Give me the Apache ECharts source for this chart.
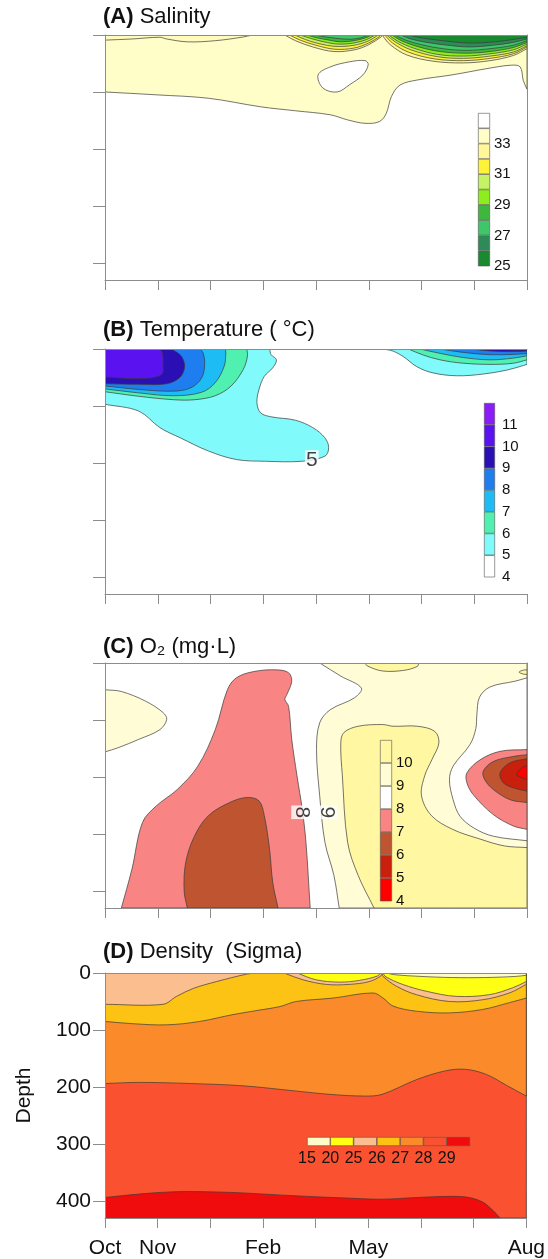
<!DOCTYPE html>
<html>
<head>
<meta charset="utf-8">
<script src="https://cdn.jsdelivr.net/npm/echarts@6/dist/echarts.min.js"></script>
<style>
  html, body { margin: 0; padding: 0; background: #fff; }
  #chart { width: 548px; height: 1259px; }
</style>
</head>
<body>
<div id="chart"></div>
<script>
// x axis: 9 ticks (0..8), only some are named
const monthLabels = { 0: 'Oct', 1: 'Nov', 3: 'Feb', 5: 'May', 8: 'Aug' };
const depthTicks = [0, 100, 200, 300, 400];

// corners of a panel, [x, depth]
const TL = [0, 0], TR = [8, 0], BR = [8, 430], BL = [0, 430];

// ---------- (A) Salinity ----------
const salEdges = [25, 26, 27, 28, 29, 30, 31, 32, 33, 34, 35];
const salColors = ['#1a8a30', '#2e8b57', '#3fc56a', '#3db83d', '#8cee1c', '#c6f266', '#fff23a', '#fff79a', '#fffdc8', '#ffffff'];
const sal33 = [[0, 100], [0.97, 105], [1.96, 111], [2.95, 126], [3.61, 133], [4.27, 140], [4.6, 149], [4.93, 155], [5.2, 152], [5.33, 138], [5.43, 108], [5.59, 88], [5.92, 79], [6.58, 70], [7.24, 59], [7.7, 53], [7.87, 56], [7.93, 80], [8, 95]];
const salIsland = [[4.04, 70], [4.27, 56], [4.64, 47], [4.93, 45], [4.99, 52], [4.89, 70], [4.64, 87], [4.4, 100], [4.13, 93]];
const salTopLeft = [[0, 9], [0.51, 7], [1.04, 4], [1.17, 7], [1.56, 12], [2.09, 10], [2.62, 3.5], [2.79, 0]];
const salLensA = [
  [[3.41, 0], [3.61, 10], [3.94, 21], [4.34, 29], [4.73, 26], [5.0, 17], [5.24, 3], [5.26, 0]],
  [[3.5, 0], [3.7, 9], [4.0, 18], [4.36, 25], [4.72, 23], [5.0, 14], [5.2, 3], [5.23, 0]],
  [[3.6, 0], [3.8, 8], [4.05, 15], [4.38, 20], [4.72, 18], [4.98, 11], [5.15, 2], [5.18, 0]],
  [[3.7, 0], [3.9, 6], [4.15, 12], [4.42, 16], [4.72, 14], [4.96, 8], [5.12, 0]],
  [[3.82, 0], [4.02, 5], [4.25, 9], [4.46, 12], [4.72, 10], [4.94, 5], [5.06, 0]],
  [[3.98, 0], [4.15, 3], [4.4, 6], [4.65, 7.5], [4.85, 5], [5.0, 0]]
];
const salLensB = [
  [[5.26, 0], [5.3, 6], [5.42, 18], [5.72, 35], [6.22, 46], [6.79, 49], [7.3, 45], [7.74, 36], [8, 24]],
  [[5.3, 0], [5.45, 14], [5.75, 30], [6.25, 42], [6.8, 45], [7.3, 41], [7.74, 33], [8, 21]],
  [[5.34, 0], [5.5, 12], [5.8, 26], [6.3, 38], [6.8, 41], [7.3, 37], [7.74, 30], [8, 19]],
  [[5.38, 0], [5.55, 11], [5.85, 23], [6.3, 34], [6.8, 37], [7.3, 33], [7.74, 26], [8, 16]],
  [[5.44, 0], [5.62, 10], [5.95, 21], [6.35, 29], [6.85, 32], [7.3, 29], [7.74, 22], [8, 13]],
  [[5.5, 0], [5.7, 9], [6.0, 17], [6.4, 24], [6.85, 27], [7.3, 24], [7.74, 18], [8, 10]],
  [[5.6, 0], [5.8, 7], [6.1, 13], [6.5, 18], [6.9, 21], [7.35, 18], [7.74, 13], [8, 7]],
  [[5.75, 0], [6.0, 5], [6.4, 10], [6.9, 14], [7.4, 12], [7.8, 7], [8, 4]]
];

// ---------- (B) Temperature ----------
const tempEdges = [4, 5, 6, 7, 8, 9, 10, 11, 12];
const tempColors = ['#ffffff', '#80fafa', '#4ff0b0', '#1ebcf5', '#1e7ef0', '#2a0fb5', '#5a12f0', '#8b1cf7'];
const temp5 = [[0, 97], [0.64, 109], [1.04, 138], [1.43, 156], [1.96, 179], [2.49, 194], [3.02, 197], [3.74, 197], [4.17, 188], [4.24, 173], [4.17, 156], [3.94, 138], [3.61, 125], [3.15, 119], [2.95, 112], [2.88, 94], [2.92, 71], [3.02, 48], [3.18, 33], [3.25, 19], [3.15, 10], [3.12, 0]];
const temp6 = [[0, 75], [0.64, 83], [1.3, 89], [1.7, 89], [2.09, 82], [2.39, 65], [2.62, 36], [2.7, 13], [2.69, 0]];
const temp7 = [[0, 70], [0.64, 77], [1.3, 82], [1.83, 76], [2.09, 59], [2.26, 30], [2.29, 7], [2.28, 0]];
const temp8 = [[0, 65], [0.64, 71], [1.3, 74], [1.63, 68], [1.83, 51], [1.89, 27], [1.86, 7], [1.8, 0]];
const temp9 = [[0, 61], [0.64, 62], [1.17, 61], [1.43, 49], [1.51, 30], [1.45, 13], [1.33, 4], [1.23, 0]];
const temp10 = [[0, 49], [0.64, 52], [1.07, 45], [1.1, 24], [1.09, 7], [1.04, 0]];
const temp5r = [[5.02, 0], [5.4, 2], [5.65, 13], [5.91, 31], [6.22, 42], [6.67, 47], [7.17, 44], [7.62, 37], [7.93, 29], [8, 27]];
const temp6r = [[5.75, 0], [6.03, 10.5], [6.35, 19], [6.79, 25], [7.3, 27], [7.74, 25], [8, 19]];
const temp7r = [[5.97, 0], [6.35, 7.6], [6.79, 15], [7.3, 19], [7.74, 16], [8, 12]];
const temp8r = [[6.35, 0], [6.79, 6], [7.3, 10], [7.74, 9.5], [8, 8]];
const temp9r = [[6.92, 0], [7.3, 3.5], [7.74, 4.6], [8, 3.5]];
const temp10r = [[7.4, 0], [7.8, 2], [8, 1.5]];
const tempLabel = [[3.92, 196, '5']];

// ---------- (C) O2 ----------
const oxyEdges = [4, 5, 6, 7, 8, 9, 10, 11];
const oxyColors = ['#ff0000', '#c8200c', '#bf5530', '#f88484', '#ffffff', '#fffcd6', '#fff7a2'];
const oxy9 = [[4.07, 0], [4.47, 23], [4.86, 44], [4.73, 61], [4.27, 82], [4.07, 105], [4.01, 152], [4.07, 233], [4.17, 315], [4.34, 373], [4.44, 430]];
const oxy10 = [[5.1, 430], [4.8, 373], [4.6, 315], [4.5, 198], [4.47, 140], [4.53, 122], [4.8, 111], [5.26, 108], [5.46, 111], [5.92, 111], [6.25, 120], [6.33, 140], [6.2, 169], [6.06, 198], [6.0, 233], [6.19, 268], [6.59, 292], [7.11, 309], [7.57, 321], [8, 324]];
const oxyTopBlob = [[4.93, 0], [4.97, 5], [5.26, 14], [5.66, 13], [5.92, 6], [5.95, 0]];
const oxyCornerBlob = [[8, 12], [7.93, 12.5], [7.85, 16], [7.93, 19.5], [8, 20]];
const oxyHole = [[8, 26], [7.77, 32], [7.3, 42], [7.1, 60], [7.05, 90], [7.03, 115], [6.92, 143], [6.6, 181], [6.53, 205], [6.6, 240], [6.73, 269], [7.0, 290], [7.36, 304], [8, 312]];
const oxyPinkR = [[8, 152], [7.49, 155], [7.11, 170], [6.86, 193], [6.86, 210], [6.98, 231], [7.36, 266], [7.74, 286], [8, 292]];
const oxyBrownR = [[8, 161], [7.74, 164], [7.36, 173], [7.17, 190], [7.2, 205], [7.36, 222], [7.68, 240], [8, 245]];
const oxyDarkR = [[8, 168], [7.68, 175], [7.49, 193], [7.55, 210], [7.74, 219], [8, 225]];
const oxyRedR = [[8, 180], [7.9, 184], [7.8, 196], [7.87, 200], [8, 205]];
const oxyCreamL = [[0, 47], [0.31, 50], [0.77, 67], [1.1, 87], [1.17, 99], [1.04, 117], [0.64, 134], [0.24, 149], [0, 156]];
const oxyPinkL = [[0.31, 430], [0.51, 362], [0.71, 280], [0.97, 251], [1.37, 222], [1.76, 181], [2.09, 117], [2.32, 47], [2.49, 26], [2.82, 15], [3.25, 12], [3.48, 17], [3.54, 32], [3.45, 55], [3.41, 64], [3.48, 76], [3.54, 134], [3.64, 198], [3.74, 257], [3.81, 315], [3.89, 430]];
const oxyBrownL = [[1.56, 430], [1.5, 400], [1.53, 350], [1.7, 303], [1.96, 268], [2.36, 245], [2.69, 236], [2.92, 242], [3.02, 268], [3.12, 327], [3.18, 385], [3.28, 430]];
const oxyLabels = [[3.73, 262, '8'], [4.21, 262, '9']];

// ---------- (D) Density ----------
const densLabels = ['15', '20', '25', '26', '27', '28', '29'];
const densColors = ['#fffbc8', '#ffff14', '#fbbe8e', '#fcc214', '#fa8a2a', '#fa5230', '#f00c0c'];
const dens29 = [[0, 394], [0.64, 388], [1.3, 384], [1.96, 384], [2.62, 386], [3.61, 391], [4.6, 395], [5.26, 397], [5.92, 394], [6.58, 392], [6.91, 394], [7.17, 402], [7.37, 417], [7.5, 430]];
const dens28 = [[0, 194], [0.64, 192], [1.63, 194], [2.62, 198], [3.61, 207], [4.27, 213], [4.93, 216], [5.26, 213], [5.92, 187], [6.45, 172], [6.84, 169], [7.24, 178], [7.64, 198], [8, 216]];
const dens27 = [[0, 85], [0.53, 89], [1.17, 91], [1.8, 85], [2.43, 73], [2.94, 65], [3.32, 59], [3.63, 50], [4.33, 44], [5.09, 35], [5.28, 44], [5.47, 58], [5.91, 67], [6.54, 70], [7.17, 64], [7.68, 52], [8, 44]];
const dens26 = [[0, 55], [1.1, 55], [1.36, 41], [1.68, 27], [2.12, 15], [2.69, 2], [2.87, 0]];
const dens26a = [[3.4, 0], [3.76, 12], [4.2, 20], [4.64, 20], [5.02, 15], [5.24, 5], [5.26, 0]];
const dens25a = [[3.65, 0], [4.01, 12], [4.45, 16], [4.83, 13], [5.18, 5], [5.22, 0]];
const dens26b = [[5.26, 0], [5.28, 6], [5.53, 23], [5.91, 38], [6.54, 50], [7.17, 47], [7.68, 35], [8, 20]];
const dens25b = [[5.28, 0], [5.32, 6], [5.65, 20], [6.1, 32], [6.67, 41], [7.3, 38], [7.74, 26], [8, 15]];
const dens20b = [[5.35, 0], [5.5, 3], [6.0, 6], [6.6, 8], [7.2, 8], [7.8, 6], [8, 4]];

// ---------- layout ----------
const FONT = 'Arial, "Liberation Sans", Helvetica, sans-serif';
const AXIS = '#8c8c8c';
const panelTops = [35, 349, 663, 973];
const titles = ['{b|(A)} Salinity', '{b|(B)} Temperature ( °C)', '{b|(C)} O₂ (mg·L)', '{b|(D)} Density  (Sigma)'];
const titleTops = [5, 318, 635, 940];

// regions drawn back to front in each panel
const panelRegions = [
  [
    { line: sal33, close: [TR, TL], color: salColors[8] },
    { line: salIsland, loop: true, color: salColors[9] },
    { line: salTopLeft, close: [TL], color: '#fffbbc' }
  ].concat(
    salLensA.map(function (l, i) { return { line: l, close: [], color: salColors[7 - i] }; }),
    salLensB.map(function (l, i) { return { line: l, close: [TR], color: salColors[7 - i] }; })
  ),
  [
    { line: temp5, close: [TL], color: tempColors[1] },
    { line: temp6, close: [TL], color: tempColors[2] },
    { line: temp7, close: [TL], color: tempColors[3] },
    { line: temp8, close: [TL], color: tempColors[4] },
    { line: temp9, close: [TL], color: tempColors[5] },
    { line: temp10, close: [TL], color: tempColors[6] },
    { line: temp5r, close: [TR], color: tempColors[1] },
    { line: temp6r, close: [TR], color: tempColors[2] },
    { line: temp7r, close: [TR], color: tempColors[3] },
    { line: temp8r, close: [TR], color: tempColors[4] },
    { line: temp9r, close: [TR], color: tempColors[5] },
    { line: temp10r, close: [TR], color: tempColors[6] }
  ],
  [
    { line: oxy9, close: [BR, TR], color: oxyColors[5] },
    { line: oxy10, close: [BR], color: oxyColors[6] },
    { line: oxyTopBlob, close: [], color: oxyColors[6] },
    { line: oxyCornerBlob, close: [], color: oxyColors[6] },
    { line: oxyHole, close: [], color: oxyColors[4] },
    { line: oxyPinkR, close: [], color: oxyColors[3] },
    { line: oxyBrownR, close: [], color: oxyColors[2] },
    { line: oxyDarkR, close: [], color: oxyColors[1] },
    { line: oxyRedR, close: [], color: oxyColors[0] },
    { line: oxyCreamL, close: [], color: oxyColors[5] },
    { line: oxyPinkL, close: [], color: oxyColors[3] },
    { line: oxyBrownL, close: [], color: oxyColors[2] }
  ],
  [
    { line: dens29, close: [BR, TR, TL], color: densColors[5] },
    { line: dens28, close: [TR, TL], color: densColors[4] },
    { line: dens27, close: [TR, TL], color: densColors[3] },
    { line: dens26, close: [TL], color: densColors[2] },
    { line: dens26a, close: [], color: densColors[2] },
    { line: dens25a, close: [], color: densColors[1] },
    { line: dens26b, close: [TR], color: densColors[2] },
    { line: dens25b, close: [TR], color: densColors[1] },
    { line: dens20b, close: [TR], color: densColors[0] }
  ]
];
const panelBase = ['#ffffff', '#ffffff', '#ffffff', densColors[6]];

function regionSeries(p, r) {
  return {
    type: 'custom',
    xAxisIndex: p * 2,
    yAxisIndex: p * 2,
    clip: true,
    silent: true,
    animation: false,
    data: r.line,
    renderItem: function (params, api) {
      if (params.dataIndex !== 0) return null;
      const pts = [];
      const n = r.line.length;
      for (let i = 0; i < n; i++) {
        const c = api.coord(r.line[i]);
        pts.push(c);
        // doubled end points keep the closing edges straight
        if (!r.loop && (i === 0 || i === n - 1)) pts.push([c[0], c[1]]);
      }
      (r.close || []).forEach(function (q) {
        const c = api.coord(q);
        pts.push(c, [c[0], c[1]]);
      });
      return {
        type: 'polygon',
        shape: { points: pts, smooth: 0.35 },
        style: { fill: r.color, stroke: '#3a3a3a', lineWidth: 0.7 }
      };
    }
  };
}

function labelSeries(p, items) {
  return {
    type: 'scatter',
    xAxisIndex: p * 2,
    yAxisIndex: p * 2,
    silent: true,
    z: 6,
    symbolSize: 1,
    itemStyle: { color: 'rgba(0,0,0,0)' },
    data: items.map(function (d) { return { value: [d[0], d[1]], name: d[2] }; }),
    label: {
      show: true, position: 'inside', formatter: '{b}',
      fontSize: 21, fontFamily: FONT, color: '#111',
      rotate: p === 2 ? -90 : 0,
      backgroundColor: '#fff', padding: [0, 1]
    }
  };
}

const grids = [], xAxes = [], yAxes = [], series = [];

panelTops.forEach(function (top, p) {
  grids.push({ left: 105, top: top, width: 422, height: 245, show: true, backgroundColor: panelBase[p], borderWidth: 0 });
  const last = p === 3;
  xAxes.push({
    gridIndex: p, type: 'value', min: 0, max: 8, interval: 1, position: 'bottom', z: 5,
    axisLine: { show: true, onZero: false, lineStyle: { color: AXIS, width: 1 } },
    axisTick: { show: true, inside: false, length: 10, lineStyle: { color: AXIS } },
    axisLabel: last ? {
      show: true, margin: 20, fontSize: 21, fontFamily: FONT, color: '#111',
      formatter: function (v) { return monthLabels[v] || ''; }
    } : { show: false },
    splitLine: { show: false }
  });
  xAxes.push({
    gridIndex: p, type: 'value', min: 0, max: 8, position: 'top', z: 5,
    axisLine: { show: true, onZero: false, lineStyle: { color: AXIS, width: 1 } },
    axisTick: { show: false }, axisLabel: { show: false }, splitLine: { show: false }
  });
  yAxes.push({
    gridIndex: p, type: 'value', inverse: true, min: 0, max: 430, interval: 100, position: 'left', z: 5,
    name: last ? 'Depth' : '', nameLocation: 'middle', nameGap: 70, nameRotate: 90,
    nameTextStyle: { fontSize: 21, fontFamily: FONT, color: '#111' },
    axisLine: { show: true, onZero: false, lineStyle: { color: AXIS, width: 1 } },
    axisTick: { show: true, inside: false, length: 12, customValues: depthTicks, lineStyle: { color: AXIS } },
    axisLabel: last ? {
      show: true, margin: 14, fontSize: 21, fontFamily: FONT, color: '#111', customValues: depthTicks,
      formatter: function (v) { return v % 100 === 0 ? String(v) : ''; }
    } : { show: false },
    splitLine: { show: false }
  });
  yAxes.push({
    gridIndex: p, type: 'value', inverse: true, min: 0, max: 430, position: 'right', z: 5,
    axisLine: { show: p === 0 || p === 2, onZero: false, lineStyle: { color: AXIS, width: 1 } },
    axisTick: { show: false }, axisLabel: { show: false }, splitLine: { show: false }
  });
  panelRegions[p].forEach(function (r) { series.push(regionSeries(p, r)); });
});
series.push(labelSeries(1, tempLabel));
series.push(labelSeries(2, oxyLabels));

// vertical colour bars for A, B, C (grids 4..6, axes 8..10)
const bars = [
  { edges: salEdges, colors: salColors, box: [478, 113, 12, 153], margin: 4, show: function (v) { return v % 2 === 1 && v < 35; } },
  { edges: tempEdges, colors: tempColors, box: [484, 403, 11, 174], margin: 7, show: function (v) { return v < 12; } },
  { edges: oxyEdges, colors: oxyColors, box: [380, 740, 12, 161], margin: 4, show: function (v) { return v < 11; } }
];
bars.forEach(function (b, k) {
  const g = 4 + k;
  const ax = 8 + k;
  grids.push({ left: b.box[0], top: b.box[1], width: b.box[2], height: b.box[3] });
  xAxes.push({ gridIndex: g, type: 'category', data: [''], show: false });
  yAxes.push({
    gridIndex: g, type: 'value', min: b.edges[0], max: b.edges[b.edges.length - 1], interval: 1, position: 'right', z: 10,
    axisLine: { show: false }, axisTick: { show: false }, splitLine: { show: false },
    axisLabel: {
      margin: b.margin, fontSize: 15, fontFamily: FONT, color: '#111',
      formatter: function (v) { return b.show(v) ? String(v) : ''; }
    }
  });
  b.colors.forEach(function (c, i) {
    series.push({
      type: 'bar', xAxisIndex: ax, yAxisIndex: ax, stack: 'cb' + k, silent: true, z: 8,
      barWidth: '100%',
      data: [i === 0 ? b.edges[1] : b.edges[i + 1] - b.edges[i]],
      itemStyle: { color: c, borderColor: '#555', borderWidth: 0.6 }
    });
  });
});

// horizontal colour bar for D (grid 7, axes 11)
grids.push({ left: 307, top: 1137, width: 163, height: 9 });
xAxes.push({
  gridIndex: 7, type: 'value', min: 0, max: 7, interval: 1, position: 'bottom', z: 10,
  axisLine: { show: false }, axisTick: { show: false }, splitLine: { show: false },
  axisLabel: {
    margin: 5, fontSize: 16, fontFamily: FONT, color: '#111',
    formatter: function (v) { return densLabels[v] || ''; }
  }
});
yAxes.push({ gridIndex: 7, type: 'category', data: [''], show: false });
densColors.forEach(function (c) {
  series.push({
    type: 'bar', xAxisIndex: 11, yAxisIndex: 11, stack: 'cbD', silent: true, z: 8,
    barWidth: '100%', data: [1],
    itemStyle: { color: c, borderColor: '#555', borderWidth: 0.6 }
  });
});

const chart = echarts.init(document.getElementById('chart'));
chart.setOption({
  animation: false,
  title: titles.map(function (t, i) {
    return {
      text: t, left: 103, top: titleTops[i], padding: 0,
      textStyle: {
        fontSize: 22, fontWeight: 'normal', fontFamily: FONT, color: '#111', lineHeight: 24,
        rich: { b: { fontSize: 22, fontWeight: 'bold', fontFamily: FONT, color: '#111', lineHeight: 24 } }
      }
    };
  }),
  grid: grids,
  xAxis: xAxes,
  yAxis: yAxes,
  series: series
});
</script>
</body>
</html>
